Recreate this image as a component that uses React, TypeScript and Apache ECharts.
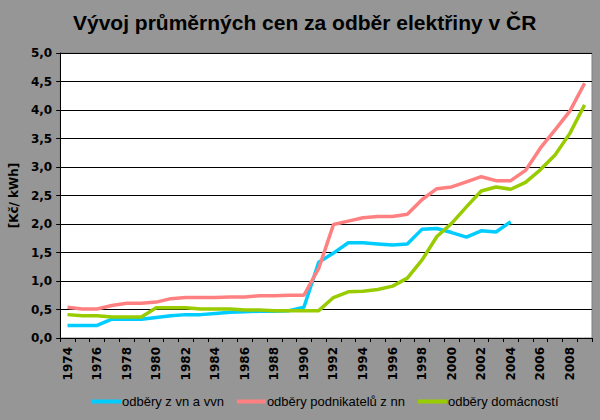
import React, { useEffect, useRef } from "react";
import * as echarts from "echarts";

const years: string[] = [];
for (let y = 1974; y <= 2009; y++) years.push(String(y));

const vnVvn: (number | null)[] = [
  0.22, 0.22, 0.22, 0.33, 0.33, 0.33, 0.36, 0.39, 0.41, 0.41,
  0.43, 0.45, 0.46, 0.47, 0.47, 0.48, 0.54, 1.33, 1.49, 1.67,
  1.67, 1.65, 1.63, 1.65, 1.91, 1.92, 1.85, 1.77, 1.88, 1.86,
  2.04, null, null, null, null, null,
];

const podnikatele: number[] = [
  0.54, 0.51, 0.51, 0.57, 0.61, 0.61, 0.63, 0.69, 0.71, 0.71,
  0.71, 0.72, 0.72, 0.74, 0.74, 0.75, 0.75, 1.22, 1.99, 2.05,
  2.11, 2.13, 2.13, 2.17, 2.43, 2.62, 2.65, 2.74, 2.83, 2.76,
  2.76, 2.94, 3.33, 3.65, 3.98, 4.47,
];

const domacnosti: number[] = [
  0.41, 0.39, 0.39, 0.37, 0.37, 0.37, 0.53, 0.53, 0.53, 0.51,
  0.51, 0.51, 0.49, 0.49, 0.48, 0.48, 0.48, 0.48, 0.71, 0.81,
  0.82, 0.85, 0.91, 1.05, 1.37, 1.78, 2.01, 2.30, 2.58, 2.65,
  2.61, 2.73, 2.95, 3.21, 3.59, 4.09,
];

const seriesNames = ["odběry z vn a vvn", "odběry podnikatelů z nn", "odběry domácností"];
const colors = ["#00CCFF", "#FF8080", "#99CC00"];

export default function App() {
  const ref = useRef<HTMLDivElement>(null);
  useEffect(() => {
    if (!ref.current) return;
    const chart = echarts.init(ref.current, null, { renderer: "svg" });
    const arial = "Arial, 'Liberation Sans', sans-serif";
    const wide = "'DejaVu Sans', sans-serif";
    chart.setOption({
      animation: false,
      backgroundColor: "#969696",
      title: {
        text: "Vývoj průměrných cen za odběr elektřiny v ČR",
        left: 73,
        top: 12,
        padding: 0,
        textStyle: { fontFamily: arial, fontSize: 21, fontWeight: "bold", color: "#000" },
      },
      legend: {
        left: 92,
        top: 395,
        padding: 0,
        icon: "rect",
        itemWidth: 29,
        itemHeight: 4,
        itemGap: 13,
        data: seriesNames,
        textStyle: { fontFamily: arial, fontSize: 13, fontWeight: "normal", color: "#000", padding: [0, 0, 0, -4] },
      },
      grid: {
        left: 58,
        right: 8,
        top: 53,
        bottom: 82,
        show: true,
        backgroundColor: "#fff",
        borderColor: "#808080",
        borderWidth: 1,
      },
      xAxis: {
        type: "category",
        data: years,
        boundaryGap: true,
        axisLine: { lineStyle: { color: "#000", width: 1 } },
        axisTick: { show: true, interval: 0, length: 4, lineStyle: { color: "#000" } },
        axisLabel: {
          interval: 1,
          rotate: 90,
          margin: 9,
          fontFamily: wide,
          fontSize: 12,
          fontWeight: "bold",
          color: "#000",
        },
        splitLine: { show: false },
      },
      yAxis: {
        type: "value",
        min: 0,
        max: 5,
        interval: 0.5,
        name: "[Kč/ kWh]",
        nameLocation: "middle",
        nameGap: 40,
        nameTextStyle: { fontFamily: wide, fontSize: 12, fontWeight: "bold", color: "#000" },
        axisLine: { show: true, lineStyle: { color: "#000", width: 1 } },
        axisTick: { show: true, length: 4, lineStyle: { color: "#000" } },
        axisLabel: {
          margin: 8,
          fontFamily: wide,
          fontSize: 12,
          fontWeight: "bold",
          color: "#000",
          formatter: (v: number) => v.toFixed(1).replace(".", ","),
        },
        splitLine: { show: true, lineStyle: { color: "#000", width: 1 } },
      },
      series: [
        { name: seriesNames[0], type: "line", data: vnVvn, color: colors[0], showSymbol: false, lineStyle: { width: 3.5 }, connectNulls: false },
        { name: seriesNames[1], type: "line", data: podnikatele, color: colors[1], showSymbol: false, lineStyle: { width: 3.5 } },
        { name: seriesNames[2], type: "line", data: domacnosti, color: colors[2], showSymbol: false, lineStyle: { width: 3.5 } },
      ],
    });
    return () => chart.dispose();
  }, []);
  return <div ref={ref} style={{ width: 600, height: 420, position: "absolute", left: 0, top: 0 }} />;
}
